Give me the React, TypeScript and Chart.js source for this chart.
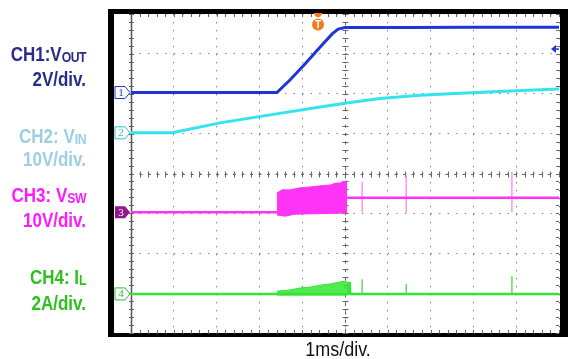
import React, { useEffect, useRef } from 'react';
import { Chart, registerables } from 'chart.js';

Chart.register(...registerables);

const W = 578;
const H = 359;

// All values in oscilloscope divisions (x: 0..10, y: 0..8 from bottom)
// CH1: VOUT
const ch1X = [0, 3.41, 3.72, 4.07, 4.42, 4.7, 4.84, 5.0, 6.5, 8.0, 10];
const ch1Y = [6.03, 6.03, 6.35, 6.75, 7.17, 7.5, 7.62, 7.66, 7.66, 7.67, 7.67];

// CH2: VIN
const ch2X = [0, 0.96, 2.08, 3.25, 4.42, 5.12, 5.82, 6.75, 7.69, 8.86, 10];
const ch2Y = [5.02, 5.02, 5.27, 5.47, 5.67, 5.78, 5.88, 5.96, 6.01, 6.07, 6.12];

// CH3: VSW (before burst / after burst)
const ch3PreX = [0, 3.41];
const ch3PreY = [3.03, 3.03];
const ch3PostX = [5.05, 10];
const ch3PostY = [3.39, 3.39];
// CH3 spikes after soft-start
const spikeX = [5.4, 6.43, 8.9];
const ch3SpikeTop = [3.79, 3.96, 4.04];
const ch3SpikeBot = [3.03, 3.01, 3.03];
// CH3 switching burst envelope
const ch3BurstTopX = [3.41, 3.53, 3.72, 3.95, 4.18, 4.42, 4.65, 4.79, 4.88, 4.95, 5.02, 5.05];
const ch3BurstTopY = [3.51, 3.59, 3.59, 3.64, 3.66, 3.69, 3.71, 3.76, 3.76, 3.79, 3.81, 3.81];
const ch3BurstBotX = [3.41, 3.6, 3.83, 5.05];
const ch3BurstBotY = [2.96, 2.93, 2.98, 3.01];

// CH4: IL
const ch4X = [0, 3.41, 5.05, 5.06, 5.11, 5.12, 10];
const ch4Y = [0.98, 0.98, 0.98, 1.25, 1.25, 0.98, 0.98];
const ch4SpikeTop = [1.35, 1.23, 1.43];
const ch4SpikeBot = [0.98, 0.98, 0.98];
const ch4BurstTopX = [3.41, 3.72, 3.95, 4.18, 4.42, 4.65, 4.88, 5.0, 5.04];
const ch4BurstTopY = [1.05, 1.08, 1.13, 1.15, 1.2, 1.23, 1.28, 1.3, 1.3];
const ch4BurstBotX = [3.41, 5.04];
const ch4BurstBotY = [0.95, 0.95];

// Channel ground markers, trigger position and level
const chRef = [6.03, 5.02, 3.03, 0.98];
const chMarkLabels = ['1', '2', '3', '4'];
const trigX = 4.37;
const trigLevel = 7.12;

const C1 = '#1f35d8';
const C2 = '#33e3f0';
const C3 = '#ff33f5';
const C4 = '#33e633';

const pts = (xs: number[], ys: number[]) => xs.map((x, i) => ({ x, y: ys[i] }));

const scopePlugin = {
  id: 'scope',
  beforeDraw(chart: any) {
    const { ctx, chartArea: a } = chart;
    ctx.save();
    ctx.fillStyle = '#fff';
    ctx.fillRect(0, 0, chart.width, chart.height);
    ctx.fillStyle = '#000';
    ctx.fillRect(a.left - 23, a.top - 5, a.right - a.left + 32, a.bottom - a.top + 9);
    ctx.fillStyle = '#fff';
    ctx.fillRect(a.left - 17, a.top, a.right - a.left + 18, a.bottom - a.top);
    ctx.restore();
  },
  beforeDatasetsDraw(chart: any) {
    const { ctx, chartArea: a, scales } = chart;
    const x = scales.x;
    const y = scales.y;
    const cx = Math.round(x.getPixelForValue(5)) + 0.5;
    const cy = Math.round(y.getPixelForValue(4)) + 0.5;
    ctx.save();
    ctx.strokeStyle = '#666';
    ctx.lineWidth = 1;
    ctx.beginPath();
    for (let i = 0; i <= 50; i++) {
      const px = Math.round(x.getPixelForValue(i * 0.2)) + 0.5;
      ctx.moveTo(px, cy - 3);
      ctx.lineTo(px, cy + 3);
      ctx.moveTo(px, a.top);
      ctx.lineTo(px, a.top + 3);
      ctx.moveTo(px, a.bottom);
      ctx.lineTo(px, a.bottom - 3);
    }
    for (let i = 0; i <= 40; i++) {
      const py = Math.round(y.getPixelForValue(i * 0.2)) + 0.5;
      ctx.moveTo(cx - 3, py);
      ctx.lineTo(cx + 3, py);
      ctx.moveTo(a.left - 2, py);
      ctx.lineTo(a.left + 3, py);
      ctx.moveTo(a.right, py);
      ctx.lineTo(a.right - 3, py);
    }
    ctx.stroke();
    ctx.setLineDash([3, 5.5]);
    ctx.beginPath();
    ctx.moveTo(a.left, cy);
    ctx.lineTo(a.right, cy);
    ctx.moveTo(cx, a.top);
    ctx.lineTo(cx, a.bottom);
    ctx.stroke();
    ctx.setLineDash([]);
    ctx.strokeStyle = '#555';
    ctx.lineWidth = 1.5;
    ctx.beginPath();
    ctx.moveTo(a.left + 0.5, a.top);
    ctx.lineTo(a.left + 0.5, a.bottom);
    ctx.stroke();
    ctx.restore();
  },
  afterDatasetsDraw(chart: any) {
    const { ctx, chartArea: a, scales } = chart;
    const x = scales.x;
    const y = scales.y;
    ctx.save();
    const colors = [C1, '#2bc7c7', '#8e1a8e', '#33b833'];
    chRef.forEach((ref, i) => {
      const py = y.getPixelForValue(ref);
      const x0 = a.left - 16;
      ctx.beginPath();
      ctx.moveTo(x0, py - 6);
      ctx.lineTo(x0 + 10, py - 6);
      ctx.lineTo(x0 + 15, py);
      ctx.lineTo(x0 + 10, py + 6);
      ctx.lineTo(x0, py + 6);
      ctx.closePath();
      if (i === 2) {
        ctx.fillStyle = colors[i];
        ctx.fill();
      } else {
        ctx.fillStyle = '#fff';
        ctx.fill();
        ctx.strokeStyle = colors[i];
        ctx.lineWidth = 1;
        ctx.stroke();
      }
      ctx.fillStyle = i === 2 ? '#fff' : colors[i];
      ctx.font = '11px "Liberation Serif", serif';
      ctx.textAlign = 'center';
      ctx.textBaseline = 'middle';
      ctx.fillText(chMarkLabels[i], x0 + 6, py + 0.5);
    });
    // trigger position marker
    const tx = x.getPixelForValue(trigX);
    ctx.fillStyle = '#f27a1f';
    ctx.beginPath();
    ctx.moveTo(tx - 4.5, a.top - 1);
    ctx.lineTo(tx + 4.5, a.top - 1);
    ctx.lineTo(tx + 2, a.top + 3);
    ctx.lineTo(tx - 2, a.top + 3);
    ctx.closePath();
    ctx.fill();
    ctx.beginPath();
    ctx.arc(tx, a.top + 10.5, 6, 0, Math.PI * 2);
    ctx.fill();
    ctx.fillStyle = '#fff';
    ctx.font = 'bold 10px "Liberation Sans", sans-serif';
    ctx.textAlign = 'center';
    ctx.textBaseline = 'middle';
    ctx.fillText('T', tx, a.top + 11);
    // trigger level arrow
    const ly = y.getPixelForValue(trigLevel);
    ctx.fillStyle = C1;
    ctx.beginPath();
    ctx.moveTo(a.right - 8, ly);
    ctx.lineTo(a.right - 3, ly - 4);
    ctx.lineTo(a.right - 3, ly + 4);
    ctx.closePath();
    ctx.fill();
    ctx.strokeStyle = C1;
    ctx.lineWidth = 1.5;
    ctx.beginPath();
    ctx.moveTo(a.right - 4, ly);
    ctx.lineTo(a.right, ly);
    ctx.stroke();
    ctx.restore();
  },
};

const axisOpts = (max: number, dash: number[]) => ({
  type: 'linear' as const,
  min: 0,
  max,
  ticks: { display: false, stepSize: 1 },
  grid: { color: 'rgba(90,90,90,0.85)', lineWidth: 1, drawTicks: false },
  border: { display: false, dash },
});

const lineDs = (data: any[], color: string, width: number, order: number) => ({
  data,
  borderColor: color,
  backgroundColor: color,
  borderWidth: width,
  pointRadius: 0,
  fill: false,
  order,
});

const spikeSets = (tops: number[], bots: number[], color: string, order: number) =>
  spikeX.map((x, i) => lineDs([{ x, y: bots[i] }, { x, y: tops[i] }], color, 1.3, order));

export default function App() {
  const ref = useRef<HTMLCanvasElement | null>(null);

  useEffect(() => {
    if (!ref.current) return;
    const chart = new Chart(ref.current, {
      type: 'line',
      data: {
        datasets: [
          lineDs(pts(ch1X, ch1Y), C1, 3, 1),
          lineDs(pts(ch2X, ch2Y), C2, 3, 2),
          lineDs(pts(ch3PreX, ch3PreY), C3, 2.5, 3),
          lineDs(pts(ch3PostX, ch3PostY), C3, 2.5, 3),
          ...spikeSets(ch3SpikeTop, ch3SpikeBot, '#ff80ff', 4),
          { ...lineDs(pts(ch3BurstTopX, ch3BurstTopY), C3, 1, 4), fill: '+1', backgroundColor: C3 },
          lineDs(pts(ch3BurstBotX, ch3BurstBotY), C3, 1, 4),
          lineDs(pts(ch4X, ch4Y), C4, 2.5, 5),
          ...spikeSets(ch4SpikeTop, ch4SpikeBot, '#44dd44', 6),
          { ...lineDs(pts(ch4BurstTopX, ch4BurstTopY), C4, 1, 6), fill: '+1', backgroundColor: 'rgba(51,230,51,0.85)' },
          lineDs(pts(ch4BurstBotX, ch4BurstBotY), C4, 1, 6),
        ],
      },
      options: {
        animation: false,
        responsive: false,
        events: [],
        layout: { padding: { left: 131, right: 19, top: 14, bottom: 26 } },
        elements: { line: { tension: 0 }, point: { radius: 0 } },
        scales: {
          x: axisOpts(10, [1.3, 6.7]),
          y: axisOpts(8, [1.3, 7.26]),
        },
        plugins: { legend: { display: false }, tooltip: { enabled: false } },
      },
      plugins: [scopePlugin],
    });
    return () => chart.destroy();
  }, []);

  const font = '"Liberation Sans", Arial, sans-serif';
  const lab = (color: string, cy: number): React.CSSProperties => ({
    position: 'absolute',
    right: W - 86,
    top: cy - 10,
    height: 20,
    lineHeight: '20px',
    fontFamily: font,
    fontSize: 17,
    fontWeight: 'bold',
    color,
    whiteSpace: 'nowrap',
    transform: 'scaleY(1.15)',
  });
  const sub: React.CSSProperties = { fontSize: '0.72em', verticalAlign: '-0.12em', lineHeight: 0, letterSpacing: '-0.5px' };
  const L1 = '#2a2c8c';
  const L2 = '#9ccfe0';
  const L3 = '#ff1aff';
  const L4 = '#2fbf1f';

  return (
    <div style={{ position: 'fixed', left: 0, top: 0, width: W, height: H, background: '#fff', overflow: 'hidden' }}>
      <canvas ref={ref} width={W} height={H} style={{ position: 'absolute', left: 0, top: 0, width: W, height: H }} />
      <div style={lab(L1, 55)}>CH1:V<sub style={sub}>OUT</sub></div>
      <div style={lab(L1, 80)}>2V/div.</div>
      <div style={lab(L2, 137)}>CH2: V<sub style={sub}>IN</sub></div>
      <div style={lab(L2, 160)}>10V/div.</div>
      <div style={lab(L3, 196)}>CH3: V<sub style={sub}>SW</sub></div>
      <div style={lab(L3, 221)}>10V/div.</div>
      <div style={lab(L4, 278)}>CH4: I<sub style={sub}>L</sub></div>
      <div style={lab(L4, 304)}>2A/div.</div>
      <div style={{ position: 'absolute', left: 238, width: 200, top: 339, height: 20, lineHeight: '20px', textAlign: 'center', fontFamily: font, fontSize: 18, color: '#111', transform: 'scaleY(1.1)' }}>1ms/div.</div>
    </div>
  );
}
